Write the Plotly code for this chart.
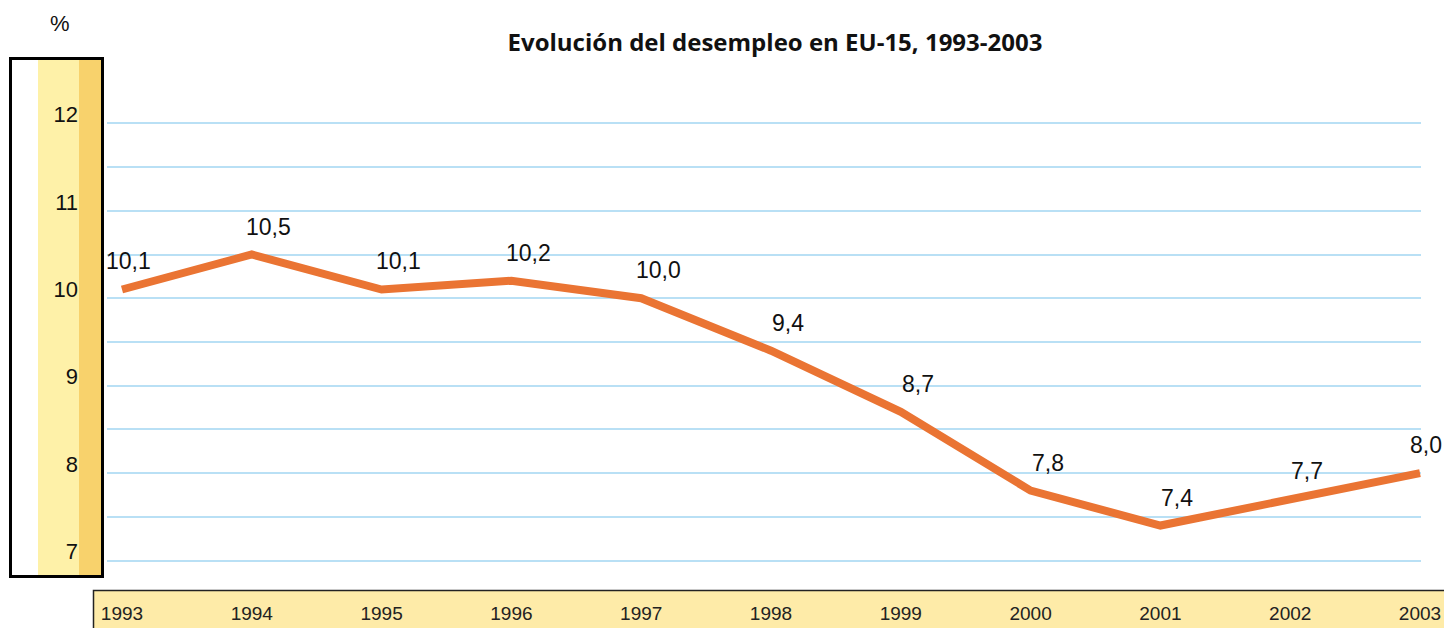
import plotly.graph_objects as go

# datos
years = [1993, 1994, 1995, 1996, 1997, 1998, 1999, 2000, 2001, 2002, 2003]
paro = [10.1, 10.5, 10.1, 10.2, 10.0, 9.4, 8.7, 7.8, 7.4, 7.7, 8.0]
paro_txt = ["10,1", "10,5", "10,1", "10,2", "10,0", "9,4", "8,7", "7,8", "7,4", "7,7", "8,0"]
y_ticks = [7, 7.5, 8, 8.5, 9, 9.5, 10, 10.5, 11, 11.5, 12]
y_ticktext = ["7", "", "8", "", "9", "", "10", "", "11", "", "12"]

# lienzo de referencia (px) y área de trazado
W, H = 1444, 628
L, T, R, B = 107, 119, 23, 50
PW = W - L - R

def px(x):
    return x / W

def py(y):
    return 1 - y / H

ORANGE = "#EA7433"
GRID = "#B9E0F5"
LIGHT_Y = "#FEF1A8"
DARK_Y = "#F8D26C"
BAR_Y = "#FEEBA8"
FONT = "Liberation Sans, Arial, sans-serif"

fig = go.Figure()
fig.add_trace(go.Scatter(
    x=years, y=paro, mode="lines",
    line=dict(color=ORANGE, width=8),
    hoverinfo="skip", cliponaxis=False,
))

# etiquetas de valor
for i, (yr, v, t) in enumerate(zip(years, paro, paro_txt)):
    fig.add_annotation(
        x=yr, y=v, text=t, showarrow=False,
        xshift=6 if i in (0, len(years) - 1) else 17, yshift=28,
        font=dict(family=FONT, size=23, color="#111"),
    )

shapes = []
# caja izquierda del eje Y
shapes.append(dict(type="rect", xref="paper", yref="paper", layer="below",
                   x0=px(11), x1=px(102), y0=py(576), y1=py(59),
                   fillcolor="white", line_width=0))
shapes.append(dict(type="rect", xref="paper", yref="paper", layer="below",
                   x0=px(38), x1=px(79), y0=py(576), y1=py(59),
                   fillcolor=LIGHT_Y, line_width=0))
shapes.append(dict(type="rect", xref="paper", yref="paper", layer="below",
                   x0=px(79), x1=px(102), y0=py(576), y1=py(59),
                   fillcolor=DARK_Y, line_width=0))
shapes.append(dict(type="rect", xref="paper", yref="paper", layer="below",
                   x0=px(10.5), x1=px(102.5), y0=py(576.5), y1=py(58.5),
                   fillcolor="rgba(0,0,0,0)", line=dict(color="black", width=3)))
# barra inferior de años
shapes.append(dict(type="rect", xref="paper", yref="paper", layer="below",
                   x0=px(93.5), x1=px(1470), y0=py(660), y1=py(590.5),
                   fillcolor=BAR_Y, line=dict(color="#222", width=1.5)))

fig.update_layout(
    autosize=True,
    margin=dict(l=0, r=0, t=0, b=0),
    paper_bgcolor="white", plot_bgcolor="white",
    showlegend=False,
    shapes=shapes,
    title=dict(
        text="<b>Evolución del desempleo en EU-15, 1993-2003</b>",
        x=px(775), xref="paper", xanchor="center",
        y=py(43), yanchor="middle",
        font=dict(family="Open Sans, Lato, sans-serif", size=24, color="#111"),
    ),
    xaxis=dict(
        domain=[L / W, 1 - R / W], automargin=False,
        range=[1993 - 15 / 129.8, 1993 + (PW - 15) / 129.8],
        tickvals=years, ticktext=[str(y) for y in years],
        showgrid=False, zeroline=False, showline=False, ticks="",
        ticklabelstandoff=22,
        tickfont=dict(family=FONT, size=19, color="#222"),
    ),
    yaxis=dict(
        domain=[B / H, 1 - T / H], automargin=False,
        range=[6.8, 12.05],
        tickvals=y_ticks, ticktext=y_ticktext,
        showgrid=True, gridcolor=GRID, gridwidth=2,
        zeroline=False, showline=False, ticks="",
        ticklabelstandoff=28, ticklabelshift=-9,
        tickfont=dict(family=FONT, size=22, color="#111"),
    ),
    annotations=list(fig.layout.annotations) + [
        dict(text="%", x=px(60), y=py(23), xref="paper", yref="paper",
             xanchor="center", yanchor="middle",
             showarrow=False, font=dict(family=FONT, size=22, color="#111")),
    ],
)

fig.write_html(
    "out.html",
    config={"displayModeBar": False},
    default_width="100vw", default_height="100vh",
    post_script="document.body.style.margin='0';document.body.style.overflow='hidden';",
)
